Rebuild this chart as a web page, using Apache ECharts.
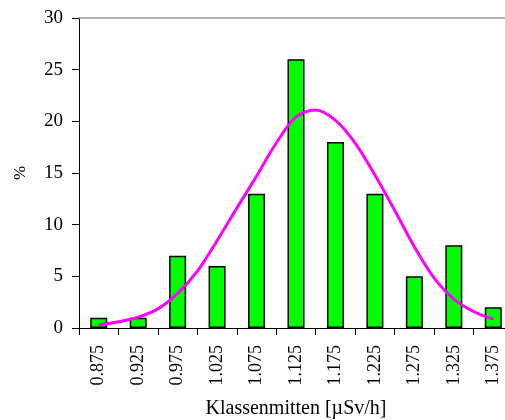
<!DOCTYPE html>
<html>
<head>
<meta charset="utf-8">
<script src="https://cdn.jsdelivr.net/npm/echarts@6/dist/echarts.min.js"></script>
<style>html,body{margin:0;padding:0;background:#fff}#c{width:505px;height:420px}</style>
</head>
<body>
<div id="c"></div>
<script>
const categories = ['0.875','0.925','0.975','1.025','1.075','1.125','1.175','1.225','1.275','1.325','1.375'];
const percent = [1, 1, 7, 6, 13, 26, 18, 13, 5, 8, 2];
const curveX = [0.875,0.9,0.925,0.95,0.975,1.0,1.025,1.05,1.075,1.1,1.125,1.15,1.175,1.2,1.225,1.25,1.275,1.3,1.325,1.35,1.375];
const curveY = [0.3,0.6,1.05,1.85,3.35,5.5,8.45,11.6,14.7,17.9,20.4,21.1,20.1,17.9,14.8,11.4,7.87,4.85,2.8,1.6,0.86];
const yTicks = [0, 5, 10, 15, 20, 25, 30];

const font = '"Liberation Serif", "Times New Roman", serif';
const chart = echarts.init(document.getElementById('c'));
chart.setOption({
  animation: false,
  grid: { left: 79, top: 18, width: 434, height: 310, containLabel: false, outerBoundsMode: 'none' },
  xAxis: [
    {
      type: 'category', data: categories, position: 'bottom',
      axisLine: { lineStyle: { color: '#000', width: 1 } },
      axisTick: { show: true, length: 7, inside: false, alignWithLabel: false, lineStyle: { color: '#000' } },
      axisLabel: { rotate: 90, margin: 17, color: '#000', fontFamily: font, fontSize: 18 },
      name: 'Klassenmitten [\u00b5Sv/h]', nameLocation: 'middle', nameGap: 71,
      nameTextStyle: { color: '#000', fontFamily: font, fontSize: 20 }
    },
    {
      type: 'value', min: 0.85, max: 1.40, position: 'top',
      axisLine: { show: true, lineStyle: { color: '#999', width: 1.5 } },
      axisTick: { show: false }, axisLabel: { show: false }, splitLine: { show: false }
    }
  ],
  yAxis: {
    type: 'value', min: yTicks[0], max: yTicks[yTicks.length - 1], interval: 5,
    axisLine: { show: true, lineStyle: { color: '#000' } },
    axisTick: { show: true, length: 7, lineStyle: { color: '#000' } },
    axisLabel: { color: '#000', fontFamily: font, fontSize: 19, margin: 16 },
    splitLine: { show: false },
    name: '%', nameLocation: 'middle', nameGap: 50, nameRotate: 90,
    nameTextStyle: { color: '#000', fontFamily: font, fontSize: 17 }
  },
  series: [
    {
      type: 'bar', data: percent, xAxisIndex: 0, barWidth: 17,
      itemStyle: { color: '#00ff00', borderColor: '#000', borderWidth: 1.5 }
    },
    {
      type: 'line', xAxisIndex: 1, data: curveX.map((x, i) => [x, curveY[i]]),
      smooth: 0.35, symbol: 'none', lineStyle: { color: '#ff00ff', width: 3 }
    }
  ]
});
</script>
</body>
</html>
